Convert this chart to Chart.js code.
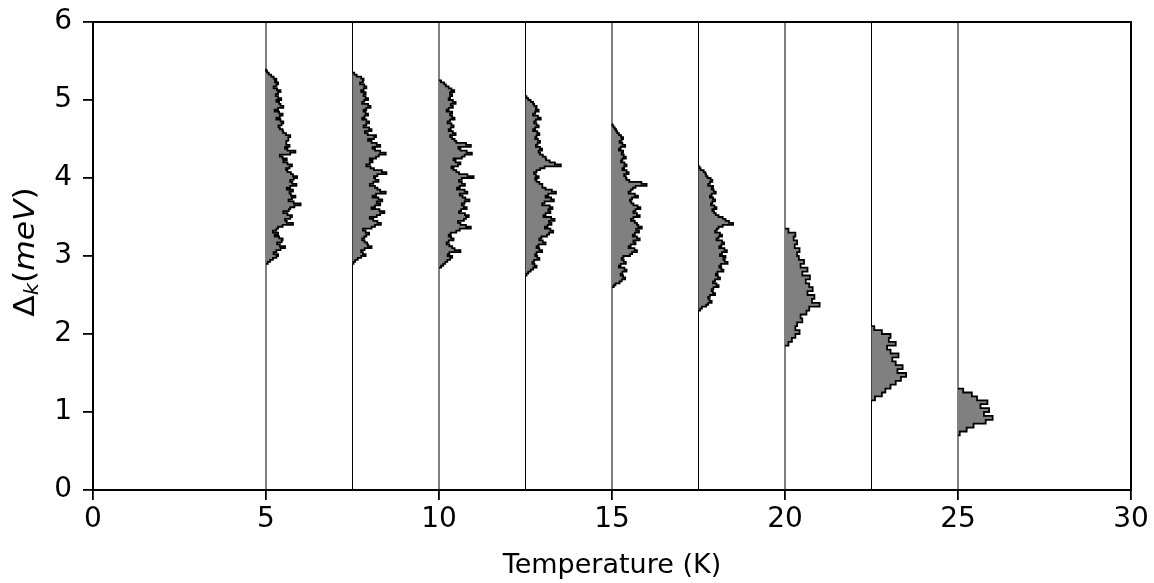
<!DOCTYPE html>
<html>
<head>
<meta charset="utf-8">
<script src="https://cdn.jsdelivr.net/npm/chart.js@4.4.1/dist/chart.umd.min.js"></script>
<style>
  body { margin: 0; background: #fff; }
</style>
</head>
<body>
<canvas id="gapChart" width="1154" height="583"></canvas>
<script>
// temperatures (K) where each histogram sits
const temperatures = [5, 7.5, 10, 12.5, 15, 17.5, 20, 22.5, 25];
// lower edge of the first energy bin (meV) and bin width for each histogram
const binStart = [2.90, 2.90, 2.85, 2.75, 2.60, 2.30, 1.85, 1.15, 0.70];
const binWidths = [0.025, 0.025, 0.025, 0.025, 0.025, 0.025, 0.05, 0.05, 0.05];

// histogram widths (K units), read bottom to top
const hist5K = [0.05, 0.12, 0.20, 0.30, 0.35, 0.22, 0.30, 0.42, 0.55, 0.40, 0.32, 0.45, 0.48, 0.38, 0.25, 0.35, 0.20, 0.30, 0.35, 0.48,
  0.78, 0.60, 0.55, 0.70, 0.75, 0.62, 0.50, 0.66, 0.70, 0.82, 1.00, 0.80, 0.65, 0.75, 0.85, 0.72, 0.68, 0.78, 0.60, 0.70,
  0.88, 0.76, 0.70, 0.80, 0.90, 0.78, 0.72, 0.62, 0.58, 0.68, 0.75, 0.62, 0.50, 0.60, 0.48, 0.40, 0.70, 0.85, 0.62, 0.55,
  0.68, 0.60, 0.58, 0.66, 0.64, 0.70, 0.58, 0.50, 0.48, 0.40, 0.36, 0.45, 0.50, 0.42, 0.30, 0.40, 0.48, 0.38, 0.25, 0.35,
  0.50, 0.42, 0.38, 0.30, 0.44, 0.35, 0.28, 0.35, 0.42, 0.32, 0.22, 0.30, 0.35, 0.26, 0.30, 0.22, 0.15, 0.08, 0.03, 0.00];
const hist7_5K = [0.03, 0.08, 0.15, 0.25, 0.38, 0.30, 0.25, 0.35, 0.55, 0.45, 0.42, 0.35, 0.28, 0.34, 0.40, 0.48, 0.38, 0.30, 0.55, 0.65,
  0.82, 0.72, 0.60, 0.50, 0.70, 0.80, 0.92, 0.78, 0.55, 0.65, 0.80, 0.70, 0.86, 0.75, 0.58, 0.68, 0.96, 0.80, 0.72, 0.65,
  0.50, 0.60, 0.75, 0.66, 0.62, 0.72, 0.98, 0.85, 0.62, 0.52, 0.40, 0.50, 0.58, 0.50, 0.68, 0.76, 0.96, 0.80, 0.65, 0.58,
  0.80, 0.70, 0.55, 0.45, 0.62, 0.68, 0.44, 0.36, 0.55, 0.48, 0.32, 0.40, 0.48, 0.40, 0.28, 0.35, 0.45, 0.38, 0.32, 0.40,
  0.52, 0.45, 0.28, 0.34, 0.45, 0.38, 0.32, 0.38, 0.25, 0.32, 0.40, 0.34, 0.22, 0.30, 0.32, 0.25, 0.12, 0.05];
const hist10K = [0.06, 0.12, 0.18, 0.24, 0.32, 0.38, 0.25, 0.30, 0.62, 0.45, 0.38, 0.30, 0.22, 0.28, 0.42, 0.35, 0.28, 0.34, 0.50, 0.60,
  0.92, 0.78, 0.62, 0.55, 0.72, 0.78, 0.86, 0.75, 0.58, 0.64, 0.80, 0.72, 0.66, 0.74, 0.88, 0.76, 0.68, 0.60, 0.82, 0.74,
  0.52, 0.60, 0.75, 0.66, 0.58, 0.66, 1.00, 0.82, 0.58, 0.50, 0.42, 0.36, 0.55, 0.62, 0.48, 0.42, 0.66, 0.74, 0.95, 0.80,
  0.62, 0.56, 0.92, 0.78, 0.50, 0.45, 0.38, 0.32, 0.48, 0.40, 0.28, 0.34, 0.42, 0.36, 0.25, 0.32, 0.45, 0.38, 0.32, 0.38,
  0.22, 0.28, 0.40, 0.34, 0.48, 0.40, 0.28, 0.32, 0.38, 0.32, 0.44, 0.36, 0.28, 0.20, 0.15, 0.06];
const hist12_5K = [0.03, 0.08, 0.15, 0.22, 0.32, 0.26, 0.20, 0.25, 0.40, 0.34, 0.28, 0.32, 0.48, 0.40, 0.32, 0.38, 0.58, 0.50, 0.40, 0.46,
  0.62, 0.68, 0.80, 0.72, 0.56, 0.64, 0.75, 0.68, 0.84, 0.74, 0.52, 0.58, 0.72, 0.66, 0.78, 0.70, 0.48, 0.55, 0.82, 0.74,
  0.58, 0.66, 0.88, 0.76, 0.58, 0.50, 0.48, 0.40, 0.32, 0.28, 0.38, 0.30, 0.25, 0.32, 0.42, 0.55, 1.02, 0.85, 0.70, 0.60,
  0.58, 0.50, 0.42, 0.38, 0.48, 0.42, 0.30, 0.35, 0.42, 0.36, 0.28, 0.32, 0.40, 0.34, 0.22, 0.28, 0.38, 0.32, 0.25, 0.30,
  0.44, 0.36, 0.22, 0.28, 0.38, 0.30, 0.32, 0.25, 0.22, 0.15, 0.08, 0.03];
const hist15K = [0.05, 0.10, 0.22, 0.28, 0.38, 0.32, 0.25, 0.30, 0.42, 0.36, 0.20, 0.25, 0.40, 0.34, 0.28, 0.33, 0.52, 0.58, 0.72, 0.65,
  0.48, 0.54, 0.68, 0.62, 0.80, 0.72, 0.60, 0.66, 0.78, 0.70, 0.86, 0.76, 0.72, 0.66, 0.55, 0.62, 0.80, 0.72, 0.62, 0.68,
  0.82, 0.74, 0.62, 0.56, 0.52, 0.58, 0.75, 0.66, 0.48, 0.54, 0.60, 0.68, 1.00, 0.85, 0.50, 0.42, 0.40, 0.35, 0.48, 0.42,
  0.30, 0.35, 0.42, 0.36, 0.26, 0.30, 0.40, 0.34, 0.28, 0.32, 0.20, 0.25, 0.38, 0.30, 0.22, 0.28, 0.32, 0.26, 0.20, 0.15,
  0.12, 0.08, 0.04, 0.02];
const hist17_5K = [0.05, 0.10, 0.22, 0.28, 0.38, 0.32, 0.28, 0.33, 0.48, 0.42, 0.38, 0.43, 0.58, 0.52, 0.42, 0.48, 0.62, 0.56, 0.50, 0.55,
  0.72, 0.66, 0.60, 0.65, 0.84, 0.76, 0.72, 0.78, 0.62, 0.68, 0.82, 0.75, 0.60, 0.66, 0.74, 0.68, 0.52, 0.58, 0.68, 0.62,
  0.48, 0.53, 0.58, 0.70, 1.00, 0.88, 0.78, 0.70, 0.58, 0.50, 0.45, 0.40, 0.52, 0.46, 0.36, 0.40, 0.48, 0.42, 0.33, 0.38,
  0.50, 0.44, 0.38, 0.42, 0.28, 0.33, 0.40, 0.35, 0.26, 0.22, 0.20, 0.15, 0.06, 0.03];
const hist20K = [0.10, 0.20, 0.30, 0.42, 0.30, 0.35, 0.50, 0.45, 0.62, 0.70, 1.00, 0.78, 0.85, 0.65, 0.80, 0.70, 0.60, 0.72, 0.50, 0.65,
  0.45, 0.55, 0.40, 0.35, 0.42, 0.28, 0.35, 0.25, 0.30, 0.10];
const hist22_5K = [0.10, 0.30, 0.40, 0.55, 0.70, 0.85, 1.00, 0.75, 0.90, 0.70, 0.60, 0.78, 0.55, 0.45, 0.70, 0.50, 0.55, 0.30, 0.08];
const hist25K = [0.05, 0.25, 0.45, 0.80, 1.00, 0.75, 0.90, 0.65, 0.85, 0.55, 0.40, 0.15];

const histograms = [hist5K, hist7_5K, hist10K, hist12_5K, hist15K, hist17_5K, hist20K, hist22_5K, hist25K];

const xTicksMax = 30;
const yTicksMax = 6;

// step outline of a sideways histogram, closed on the baseline
function stepOutline(t, start, step, counts) {
    const pts = [{ x: t, y: start }];
    counts.forEach((c, i) => {
        const y0 = start + i * step;
        pts.push({ x: t + c, y: y0 });
        pts.push({ x: t + c, y: y0 + step });
    });
    pts.push({ x: t, y: start + counts.length * step });
    return pts;
}

const datasets = [];
temperatures.forEach((t, i) => {
    datasets.push({
        data: stepOutline(t, binStart[i], binWidths[i], histograms[i]),
        showLine: true,
        fill: 'shape',
        backgroundColor: '#808080',
        borderColor: '#000',
        borderWidth: 1.8,
        pointRadius: 0,
        tension: 0
    });
    datasets.push({
        data: [{ x: t, y: 0 }, { x: t, y: yTicksMax }],
        showLine: true,
        borderColor: '#000',
        borderWidth: 1,
        pointRadius: 0
    });
});

const fontFamily = '"DejaVu Sans", sans-serif';

const framePlugin = {
    id: 'frame',
    afterDraw(chart) {
        const { ctx, chartArea } = chart;
        ctx.save();
        ctx.strokeStyle = '#000';
        ctx.lineWidth = 2;
        ctx.strokeRect(chartArea.left, chartArea.top, chartArea.right - chartArea.left, chartArea.bottom - chartArea.top);

        // x axis title
        ctx.fillStyle = '#000';
        ctx.font = '27px ' + fontFamily;
        ctx.textAlign = 'center';
        ctx.textBaseline = 'middle';
        ctx.fillText('Temperature (K)', (chartArea.left + chartArea.right) / 2, 566);

        // y axis title: Δ_k(meV)
        const parts = [
            { text: 'Δ', font: '28px ' + fontFamily, dy: 0 },
            { text: 'k', font: 'italic 19px ' + fontFamily, dy: 6 },
            { text: '(', font: '28px ' + fontFamily, dy: 0 },
            { text: 'meV', font: 'italic 28px ' + fontFamily, dy: 0 },
            { text: ')', font: '28px ' + fontFamily, dy: 0 }
        ];
        let total = 0;
        parts.forEach(p => { ctx.font = p.font; p.w = ctx.measureText(p.text).width; total += p.w; });
        ctx.translate(27, 252);
        ctx.rotate(-Math.PI / 2);
        ctx.scale(1.12, 1);
        ctx.textAlign = 'left';
        ctx.textBaseline = 'middle';
        let x = -total / 2;
        parts.forEach(p => {
            ctx.font = p.font;
            ctx.fillText(p.text, x, p.dy);
            x += p.w;
        });
        ctx.restore();
    }
};

new Chart(document.getElementById('gapChart'), {
    type: 'scatter',
    data: { datasets: datasets },
    options: {
        responsive: false,
        animation: false,
        layout: { padding: { top: 22, right: 23, left: 0, bottom: 0 } },
        plugins: {
            legend: { display: false },
            tooltip: { enabled: false }
        },
        scales: {
            x: {
                type: 'linear',
                min: 0,
                max: xTicksMax,
                afterFit: scale => {
                    scale.height = 93;
                    scale.paddingLeft = 0;
                    scale.paddingRight = 0;
                },
                ticks: { stepSize: 5, color: '#000', font: { family: fontFamily, size: 28 }, padding: 3 },
                grid: { drawOnChartArea: false, drawTicks: true, tickLength: 10, color: '#000', lineWidth: 1.8 },
                border: { display: true, color: '#000', width: 2 }
            },
            y: {
                type: 'linear',
                min: 0,
                max: yTicksMax,
                afterFit: scale => {
                    scale.width = 93;
                    scale.paddingTop = 0;
                    scale.paddingBottom = 0;
                },
                ticks: { stepSize: 1, color: '#000', font: { family: fontFamily, size: 28 }, padding: 11 },
                grid: { drawOnChartArea: false, drawTicks: true, tickLength: 10, color: '#000', lineWidth: 1.8 },
                border: { display: true, color: '#000', width: 2 }
            }
        }
    },
    plugins: [framePlugin]
});
</script>
</body>
</html>
